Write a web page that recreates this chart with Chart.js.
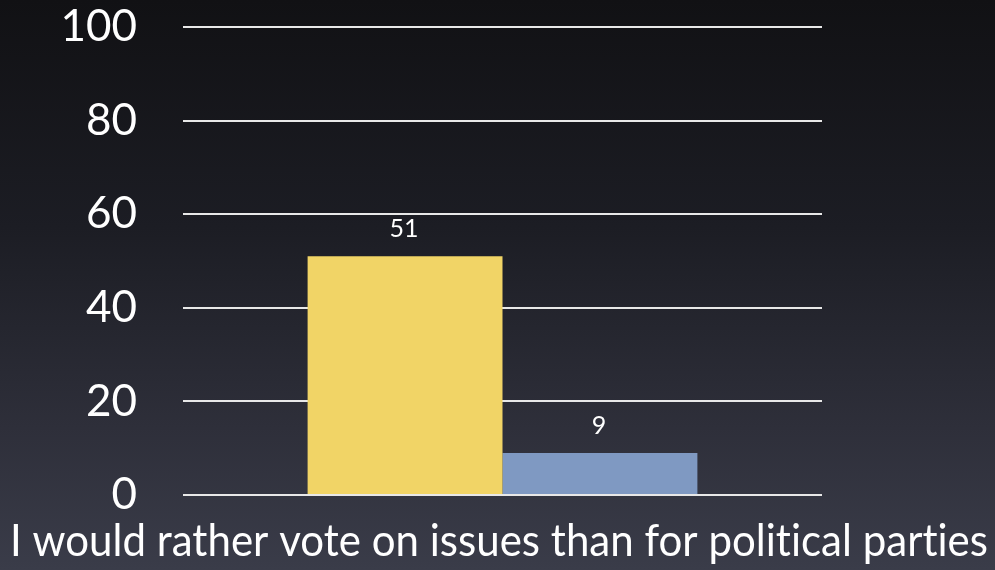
<!DOCTYPE html>
<html>
<head>
<meta charset="utf-8">
<script src="https://cdn.jsdelivr.net/npm/chart.js@4.4.1/dist/chart.umd.min.js"></script>
<style>
  html, body { margin: 0; padding: 0; }
  body {
    width: 995px; height: 570px; overflow: hidden;
    background: linear-gradient(to bottom, #111114 0%, #1c1d24 40%, #2e2f3a 75%, #3a3c49 100%);
  }
  #wrap { position: relative; width: 995px; height: 570px; }
</style>
</head>
<body>
<div id="wrap"><canvas id="myChart" width="995" height="570"></canvas></div>
<script>
const categories = ["I would rather vote on issues than for political parties"];
const seriesNames = ["Agree", "Disagree"];
const agreeValues = [51];
const disagreeValues = [9];
const yTicks = [0, 20, 40, 60, 80, 100];

const fontFamily = "Lato, 'Open Sans', sans-serif";

// draws the value above each bar
const valueLabels = {
  id: "valueLabels",
  afterDatasetsDraw(chart) {
    const ctx = chart.ctx;
    ctx.save();
    ctx.fillStyle = "#ffffff";
    ctx.font = "25px " + fontFamily;
    ctx.textAlign = "center";
    ctx.textBaseline = "middle";
    chart.data.datasets.forEach((ds, i) => {
      chart.getDatasetMeta(i).data.forEach((bar, j) => {
        ctx.fillText(ds.data[j], bar.x - 1, bar.y - 27);
      });
    });
    ctx.restore();
  }
};

// category name under the chart, stretched over the whole width like the slide
const categoryTitle = {
  id: "categoryTitle",
  afterDraw(chart) {
    const ctx = chart.ctx;
    const text = chart.data.labels[0];
    ctx.save();
    ctx.fillStyle = "#ffffff";
    ctx.font = "44px " + fontFamily;
    ctx.letterSpacing = "0.01px"; // no "ti" ligature
    ctx.textAlign = "center";
    ctx.textBaseline = "alphabetic";
    const w = ctx.measureText(text).width;
    const sx = 978 / w;
    ctx.translate(499, 556);
    ctx.scale(sx, 1);
    ctx.fillText(text, 0, 0);
    ctx.restore();
  }
};

const ctx = document.getElementById("myChart").getContext("2d");
const myChart = new Chart(ctx, {
  type: "bar",
  data: {
    labels: categories,
    datasets: [
      { label: seriesNames[0], data: agreeValues, backgroundColor: "#f1d466", borderWidth: 0,
        categoryPercentage: 0.61, barPercentage: 1 },
      { label: seriesNames[1], data: disagreeValues, backgroundColor: "#7f99c2", borderWidth: 0,
        categoryPercentage: 0.61, barPercentage: 1 }
    ]
  },
  options: {
    responsive: false,
    animation: false,
    layout: { padding: { top: 27, right: 173, left: 0, bottom: 0 } },
    plugins: { legend: { display: false }, tooltip: { enabled: false } },
    scales: {
      x: {
        grid: { display: false },
        border: { display: false },
        ticks: { display: false },
        afterFit(scale) { scale.height = 75; scale.paddingLeft = 0; scale.paddingRight = 0; }
      },
      y: {
        min: 0,
        max: 100,
        afterBuildTicks(scale) { scale.ticks = yTicks.map(v => ({ value: v })); },
        grid: { color: "#e8e8e8", lineWidth: 2, drawTicks: false },
        border: { display: false },
        ticks: {
          color: "#ffffff",
          font: { family: fontFamily, size: 44 },
          padding: 46
        },
        afterFit(scale) { scale.width = 183; scale.paddingTop = 0; scale.paddingBottom = 0; }
      }
    }
  },
  plugins: [valueLabels, categoryTitle]
});
</script>
</body>
</html>
